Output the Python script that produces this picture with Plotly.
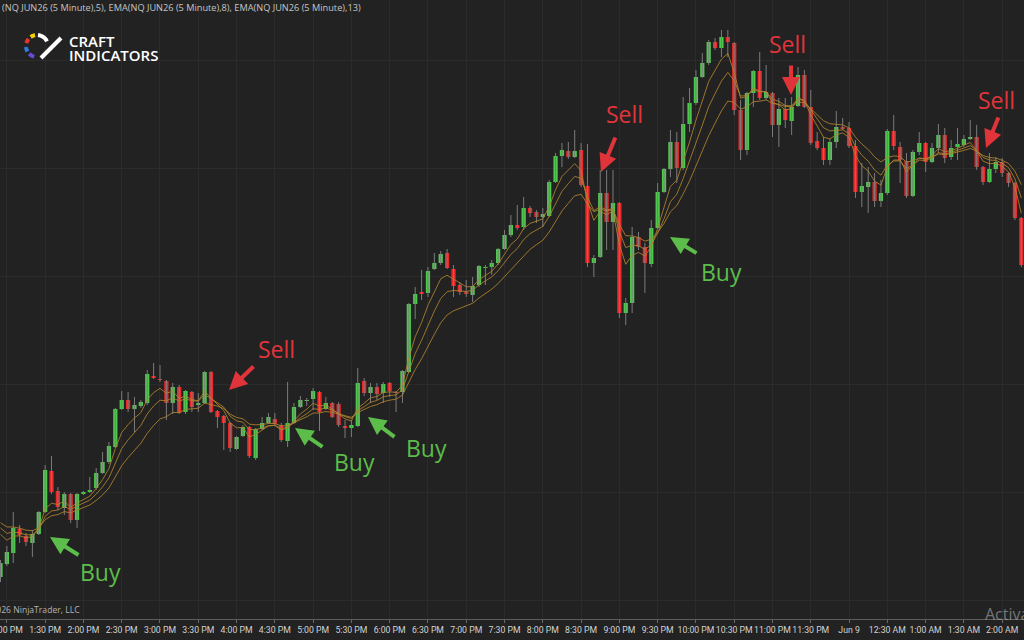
import math
import pandas as pd
import plotly.graph_objects as go

# ---------------- data (NQ JUN26, 5-minute bars) ----------------
open_ = [25423, 25436, 25447, 25471, 25464, 25457, 25466, 25488, 25529, 25509,
         25492, 25506, 25480, 25506, 25508, 25512, 25527, 25538, 25553, 25591,
         25600, 25591, 25594, 25597, 25624, 25621, 25619, 25597, 25613, 25588,
         25608, 25595, 25597, 25628, 25589, 25584, 25577, 25551, 25564, 25573,
         25542, 25571, 25577, 25581, 25575, 25559, 25577, 25593, 25599, 25601,
         25608, 25591, 25597, 25596, 25574, 25572, 25574, 25619, 25607, 25613,
         25607, 25617, 25608, 25608, 25628, 25696, 25708, 25707, 25731, 25737,
         25747, 25731, 25715, 25708, 25705, 25715, 25732, 25733, 25737, 25751,
         25765, 25775, 25773, 25792, 25788, 25783, 25784, 25818, 25844, 25849,
         25843, 25850, 25814, 25737, 25743, 25807, 25778, 25797, 25687, 25697,
         25763, 25753, 25736, 25772, 25808, 25831, 25858, 25832, 25876, 25897,
         25923, 25937, 25958, 25952, 25963, 25957, 25890, 25850, 25907, 25929,
         25902, 25907, 25875, 25891, 25879, 25894, 25925, 25893, 25859, 25852,
         25840, 25858, 25873, 25872, 25854, 25808, 25813, 25818, 25799, 25807,
         25869, 25853, 25839, 25804, 25848, 25857, 25838, 25852, 25865, 25843,
         25853, 25855, 25861, 25863, 25833, 25818, 25831, 25838, 25827, 25817,
         25782]
high = [25440, 25454, 25488, 25475, 25467, 25470, 25489, 25535, 25544, 25513,
        25508, 25507, 25507, 25509, 25523, 25532, 25548, 25558, 25592, 25609,
        25608, 25603, 25600, 25630, 25637, 25635, 25620, 25617, 25615, 25610,
        25609, 25607, 25629, 25629, 25590, 25585, 25578, 25564, 25575, 25574,
        25572, 25583, 25587, 25587, 25577, 25618, 25597, 25604, 25602, 25612,
        25609, 25603, 25598, 25598, 25580, 25580, 25632, 25622, 25617, 25617,
        25618, 25618, 25609, 25630, 25697, 25713, 25730, 25733, 25747, 25749,
        25751, 25735, 25718, 25720, 25723, 25735, 25735, 25740, 25752, 25770,
        25785, 25795, 25803, 25794, 25790, 25792, 25820, 25847, 25857, 25858,
        25870, 25857, 25856, 25745, 25830, 25830, 25830, 25798, 25702, 25773,
        25768, 25757, 25780, 25817, 25832, 25870, 25868, 25903, 25912, 25930,
        25947, 25960, 25962, 25970, 25970, 25958, 25900, 25908, 25930, 25948,
        25935, 25908, 25902, 25902, 25903, 25933, 25930, 25910, 25868, 25863,
        25861, 25889, 25882, 25878, 25860, 25837, 25833, 25827, 25820, 25871,
        25885, 25858, 25847, 25850, 25868, 25858, 25857, 25876, 25872, 25860,
        25872, 25865, 25880, 25875, 25834, 25847, 25843, 25842, 25828, 25818,
        25783]
low = [25418, 25434, 25437, 25457, 25454, 25443, 25465, 25487, 25506, 25490,
       25485, 25477, 25472, 25505, 25507, 25510, 25526, 25536, 25552, 25590,
       25588, 25568, 25592, 25595, 25621, 25618, 25580, 25586, 25586, 25586,
       25588, 25588, 25596, 25587, 25572, 25550, 25548, 25550, 25563, 25542,
       25540, 25570, 25576, 25575, 25558, 25553, 25576, 25592, 25594, 25590,
       25569, 25590, 25582, 25573, 25562, 25563, 25573, 25604, 25597, 25600,
       25597, 25603, 25588, 25597, 25627, 25681, 25700, 25703, 25730, 25735,
       25731, 25703, 25705, 25703, 25698, 25713, 25715, 25725, 25735, 25750,
       25763, 25770, 25770, 25783, 25777, 25773, 25783, 25817, 25833, 25841,
       25842, 25813, 25733, 25723, 25742, 25750, 25750, 25682, 25675, 25687,
       25750, 25707, 25733, 25771, 25807, 25823, 25817, 25830, 25868, 25895,
       25922, 25935, 25950, 25943, 25943, 25885, 25840, 25845, 25893, 25900,
       25900, 25863, 25853, 25872, 25865, 25893, 25892, 25855, 25850, 25835,
       25835, 25852, 25870, 25852, 25802, 25793, 25787, 25793, 25793, 25805,
       25850, 25817, 25802, 25803, 25845, 25828, 25837, 25847, 25837, 25840,
       25840, 25853, 25860, 25830, 25815, 25817, 25827, 25823, 25813, 25780,
       25733]
close = [25437, 25448, 25472, 25465, 25458, 25466, 25488, 25530, 25508, 25493,
         25506, 25480, 25506, 25508, 25510, 25527, 25538, 25554, 25591, 25600,
         25591, 25595, 25598, 25626, 25622, 25620, 25597, 25613, 25587, 25609,
         25593, 25597, 25628, 25588, 25583, 25577, 25552, 25563, 25573, 25544,
         25571, 25577, 25583, 25576, 25560, 25577, 25593, 25600, 25600, 25609,
         25588, 25597, 25583, 25575, 25572, 25575, 25617, 25607, 25613, 25606,
         25616, 25609, 25607, 25629, 25696, 25706, 25706, 25729, 25737, 25746,
         25732, 25714, 25708, 25706, 25714, 25734, 25733, 25737, 25751, 25765,
         25775, 25772, 25792, 25787, 25783, 25786, 25818, 25844, 25850, 25843,
         25849, 25815, 25737, 25742, 25807, 25778, 25797, 25687, 25697, 25763,
         25753, 25737, 25772, 25808, 25831, 25858, 25832, 25876, 25897, 25923,
         25937, 25958, 25952, 25963, 25958, 25890, 25850, 25907, 25929, 25902,
         25908, 25875, 25891, 25880, 25893, 25925, 25893, 25857, 25852, 25840,
         25858, 25873, 25871, 25854, 25808, 25814, 25818, 25799, 25807, 25869,
         25854, 25840, 25804, 25848, 25857, 25838, 25852, 25865, 25842, 25852,
         25856, 25861, 25863, 25833, 25818, 25831, 25838, 25827, 25817, 25782,
         25735]

ema_periods = [5, 8, 13]
ema_seed = [25480, 25482, 25484]          # indicator values just before first visible bar

tick_labels = ["1:00 PM", "1:30 PM", "2:00 PM", "2:30 PM", "3:00 PM", "3:30 PM",
               "4:00 PM", "4:30 PM", "5:00 PM", "5:30 PM", "6:00 PM", "6:30 PM",
               "7:00 PM", "7:30 PM", "8:00 PM", "8:30 PM", "9:00 PM", "9:30 PM",
               "10:00 PM", "10:30 PM", "11:00 PM", "11:30 PM", "Jun 9", "12:30 AM",
               "1:00 AM", "1:30 AM", "2:00 AM"]

signal_text = ["Buy", "Sell", "Buy", "Buy", "Sell", "Buy", "Sell", "Sell"]

times = pd.date_range("2026-06-08 12:55", periods=len(close), freq="5min")
tick_times = pd.date_range("2026-06-08 13:00", periods=len(tick_labels), freq="30min")

# ---------------- styling ----------------
BG = "#222222"
GRID = "#2b2b2b"
UP = "#4ec94e"
DOWN = "#ea2a2a"
WICK = "#7c7c7c"
EMA_COL = "rgba(176,132,46,0.85)"
BUY_COL = "#5cbd4b"
SELL_COL = "#e0343a"
W, H, PLOT_H = 1024, 640, 619


def px(x):
    return x / W


def py(y):
    return 1 - y / PLOT_H


fig = go.Figure()

# wicks
wx, wy = [], []
for t, h, l in zip(times, high, low):
    wx += [t, t, None]
    wy += [h, l, None]
fig.add_trace(go.Scatter(x=wx, y=wy, mode="lines", line=dict(color=WICK, width=1),
                         hoverinfo="skip", showlegend=False))

# bodies
bases = [min(o, c) for o, c in zip(open_, close)]
heights = [max(abs(c - o), 1) for o, c in zip(open_, close)]
colors = [UP if c >= o else DOWN for o, c in zip(open_, close)]
fig.add_trace(go.Bar(x=times, y=heights, base=bases, width=200000,
                     marker=dict(color=colors, line=dict(width=0)), showlegend=False))

# EMAs
for n, seed in zip(ema_periods, ema_seed):
    a = 2 / (n + 1)
    e = seed
    vals = []
    for c in close:
        e = e + a * (c - e)
        vals.append(e)
    fig.add_trace(go.Scatter(x=times, y=vals, mode="lines",
                             line=dict(color=EMA_COL, width=1), showlegend=False,
                             hoverinfo="skip"))

annotations = []
# signal arrows: (head x, head y, tail x, tail y) in pixels
arrow_pos = [(50, 537, 80, 556), (229, 390, 255, 365), (295, 428, 324, 448),
             (368, 417, 396, 438), (601, 172, 616, 136), (670, 237, 698, 254),
             (791, 95, 791, 64), (986, 148, 999, 116)]
text_pos = [(100, 572), (276, 349), (354, 462), (426, 448), (624, 114), (721, 272),
            (787, 44), (996, 100)]
for s, (hx, hy, tx, ty), (lx, ly) in zip(signal_text, arrow_pos, text_pos):
    col = BUY_COL if s == "Buy" else SELL_COL
    annotations.append(dict(xref="paper", yref="paper", x=px(hx), y=py(hy), text="",
                            showarrow=True, ax=tx - hx, ay=ty - hy, arrowhead=2,
                            arrowsize=0.9, arrowwidth=4, arrowcolor=col))
    annotations.append(dict(xref="paper", yref="paper", x=px(lx), y=py(ly), text=s,
                            showarrow=False, xanchor="center", yanchor="middle",
                            font=dict(family="Open Sans", size=23, color=col)))

# header text
annotations.append(dict(xref="paper", yref="paper", x=0, y=py(7), xanchor="left",
                        yanchor="middle", showarrow=False,
                        text="(NQ JUN26 (5 Minute),5), EMA(NQ JUN26 (5 Minute),8), EMA(NQ JUN26 (5 Minute),13)",
                        font=dict(family="Open Sans", size=9.2, color="#c4c4c4")))
# logo text
annotations.append(dict(xref="paper", yref="paper", x=px(67), y=py(40), xanchor="left",
                        yanchor="middle", showarrow=False, text="CRAFT", height=13,
                        font=dict(family="Open Sans", size=15, color="#ffffff", weight=600)))
annotations.append(dict(xref="paper", yref="paper", x=px(67), y=py(54), xanchor="left",
                        yanchor="middle", showarrow=False, text="INDICATORS", height=13,
                        font=dict(family="Open Sans", size=15, color="#ffffff", weight=600)))
# copyright
annotations.append(dict(xref="paper", yref="paper", x=px(82), y=py(610), xanchor="right",
                        yanchor="middle", showarrow=False, text="© 2026 NinjaTrader, LLC",
                        font=dict(family="Open Sans", size=8.6, color="#b4b4b4")))
# windows watermark
annotations.append(dict(xref="paper", yref="paper", x=px(983), y=py(614), xanchor="left",
                        yanchor="middle", showarrow=False, text="Activate Windows", height=14,
                        font=dict(family="Open Sans", size=16, color="rgba(190,190,190,0.55)")))

# logo icon
shapes = []
cx, cy, r = 37, 46, 11
seg_cols = [("#f5d000", 100, 125), ("#e8352c", 140, 165), ("#2f7de1", 185, 210),
            ("#6a4bd8", 225, 255)]
for col, a0, a1 in seg_cols:
    pts = []
    for k in range(9):
        ang = math.radians(a0 + (a1 - a0) * k / 8)
        pts.append((px(cx + r * math.cos(ang)), py(cy - r * math.sin(ang))))
    path = "M " + " L ".join(f"{x},{y}" for x, y in pts)
    shapes.append(dict(type="path", xref="paper", yref="paper", path=path,
                       line=dict(color=col, width=4)))
pts = []
for k in range(12):
    ang = math.radians(85 - 60 * k / 11)
    pts.append((px(cx + r * math.cos(ang)), py(cy - r * math.sin(ang))))
shapes.append(dict(type="path", xref="paper", yref="paper",
                   path="M " + " L ".join(f"{x},{y}" for x, y in pts),
                   line=dict(color="#ffffff", width=4)))
shapes.append(dict(type="line", xref="paper", yref="paper", x0=px(41), y0=py(58),
                   x1=px(61), y1=py(38), line=dict(color="#ffffff", width=4)))

fig.update_layout(
    width=W, height=H, margin=dict(l=0, r=0, t=0, b=H - PLOT_H, autoexpand=False),
    paper_bgcolor=BG, plot_bgcolor=BG, showlegend=False, barmode="overlay",
    annotations=annotations, shapes=shapes,
    xaxis=dict(type="date", range=["2026-06-08 12:54:37", "2026-06-09 02:17:06"],
               tickvals=tick_times, ticktext=tick_labels, tickangle=0, automargin=False,
               ticklabeloverflow="allow", showgrid=True, gridcolor=GRID,
               ticks="outside", ticklen=3, tickcolor="#6a6a6a", showline=True,
               linecolor="#5e5e5e", linewidth=1, zeroline=False,
               tickfont=dict(family="Roboto", size=8.7, color="#d2d2d2")),
    yaxis=dict(range=[25381, 26000], showticklabels=False, showgrid=True, gridcolor=GRID,
               tick0=25400, dtick=108, zeroline=False, automargin=False),
)

fig.write_html("out.html", config={"displayModeBar": False})
